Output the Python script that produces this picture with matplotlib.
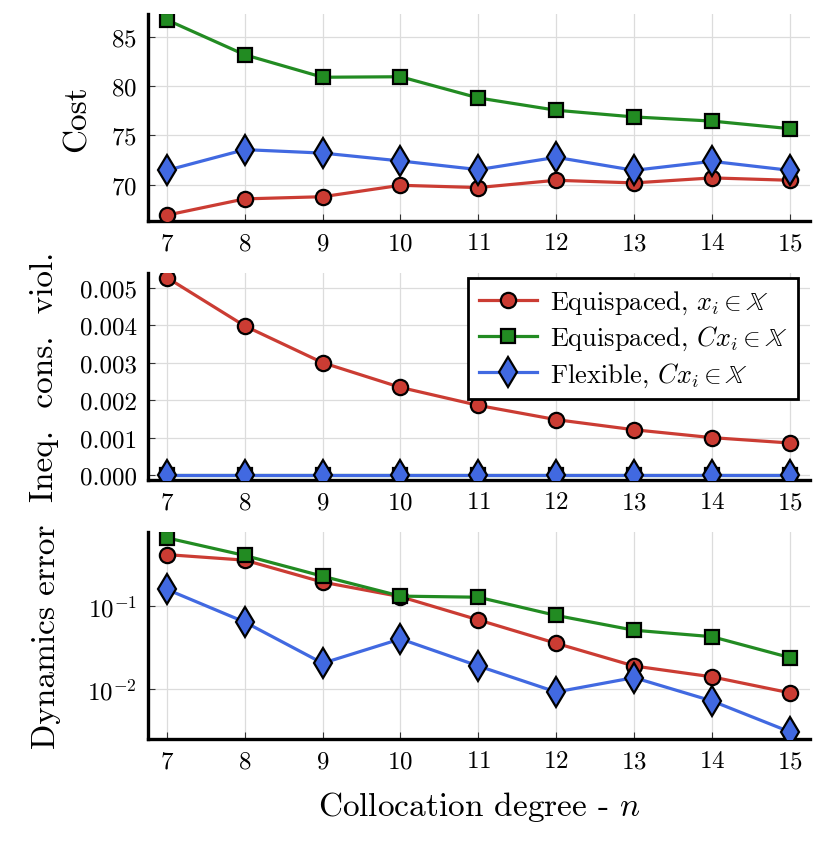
import numpy as np
import matplotlib
matplotlib.use('Agg')
import matplotlib.pyplot as plt

plt.rcParams['font.family'] = 'serif'
plt.rcParams['font.serif'] = ['cmr10']
plt.rcParams['mathtext.fontset'] = 'cm'
plt.rcParams['axes.formatter.use_mathtext'] = True
plt.rcParams['axes.unicode_minus'] = False

n = [7, 8, 9, 10, 11, 12, 13, 14, 15]

# cost
cost_eq_x = [66.9, 68.55, 68.77, 69.93, 69.7, 70.44, 70.17, 70.68, 70.44]
cost_eq_cx = [86.72, 83.18, 80.9, 80.95, 78.8, 77.55, 76.87, 76.45, 75.68]
cost_flex = [71.45, 73.55, 73.2, 72.4, 71.52, 72.77, 71.45, 72.36, 71.45]

# inequality constraint violation
viol_eq_x = [0.00527, 0.00398, 0.00300, 0.00234, 0.00186, 0.00148, 0.00121, 0.00100, 0.000857]
viol_eq_cx = [0.0, 0.0, 0.0, 0.0, 0.0, 0.0, 0.0, 0.0, 0.0]
viol_flex = [0.0, 0.0, 0.0, 0.0, 0.0, 0.0, 0.0, 0.0, 0.0]

# dynamics error
dyn_eq_x = [0.42, 0.36, 0.195, 0.13, 0.068, 0.0354, 0.0188, 0.0139, 0.0089]
dyn_eq_cx = [0.67, 0.41, 0.23, 0.132, 0.128, 0.077, 0.051, 0.0426, 0.0238]
dyn_flex = [0.159, 0.064, 0.0203, 0.040, 0.0188, 0.0091, 0.0136, 0.0071, 0.0030]

labels = [r'Equispaced, $x_i \in \mathbb{X}$',
          r'Equispaced, $Cx_i \in \mathbb{X}$',
          r'Flexible, $Cx_i \in \mathbb{X}$']
colors = ['#CB3C33', '#228B22', '#4169E1']
markers = ['o', 's', 'd']
msizes = [11, 10.5, 15]

fig = plt.figure(figsize=(8.29, 8.45), dpi=100)
boxes = [[0.1785, 0.737, 0.7985, 0.245],
         [0.1785, 0.431, 0.7985, 0.245],
         [0.1785, 0.124, 0.7985, 0.245]]
data = [[cost_eq_x, cost_eq_cx, cost_flex],
        [viol_eq_x, viol_eq_cx, viol_flex],
        [dyn_eq_x, dyn_eq_cx, dyn_flex]]
ylabels = ['Cost', 'Ineq.  cons.  viol.', 'Dynamics error']
lpads = [14, 15, 19]

axes = []
for k in range(3):
    ax = fig.add_axes(boxes[k])
    for j in range(3):
        ax.plot(n, data[k][j], color=colors[j], lw=2.3, marker=markers[j],
                ms=msizes[j], mfc=colors[j], mec='black', mew=1.6,
                label=labels[j], zorder=3)
    ax.set_xlim(6.756, 15.26)
    ax.set_xticks(n)
    ax.grid(True, color='#dcdcdc', lw=0.9)
    ax.set_axisbelow(True)
    for s in ['top', 'right']:
        ax.spines[s].set_visible(False)
    for s in ['left', 'bottom']:
        ax.spines[s].set_linewidth(2.4)
    ax.tick_params(direction='in', labelsize=18, length=5, width=0.8,
                   color='#333333', pad=8)
    ax.set_ylabel(ylabels[k], fontsize=24, labelpad=lpads[k])
    axes.append(ax)

axes[0].set_ylim(66.28, 87.3)
axes[0].set_yticks([70, 75, 80, 85])

axes[1].set_ylim(-0.000126, 0.0054)
axes[1].set_yticks([0.0, 0.001, 0.002, 0.003, 0.004, 0.005])
axes[1].set_yticklabels(['0.000', '0.001', '0.002', '0.003', '0.004', '0.005'])
leg = axes[1].legend(loc='upper right', bbox_to_anchor=(0.99, 1.0), fontsize=19,
                     frameon=True, fancybox=False, edgecolor='black', framealpha=1,
                     borderpad=0.4, handlelength=2.2, labelspacing=0.3,
                     handletextpad=0.5, borderaxespad=0.2)
leg.get_frame().set_linewidth(2.0)

axes[2].set_yscale('log')
axes[2].set_ylim(10 ** -2.613, 10 ** -0.105)
axes[2].set_yticks([0.01, 0.1])
axes[2].minorticks_off()
axes[2].set_xlabel('Collocation degree - $n$', fontsize=24, labelpad=12)

fig.savefig('out.png', dpi=100)
